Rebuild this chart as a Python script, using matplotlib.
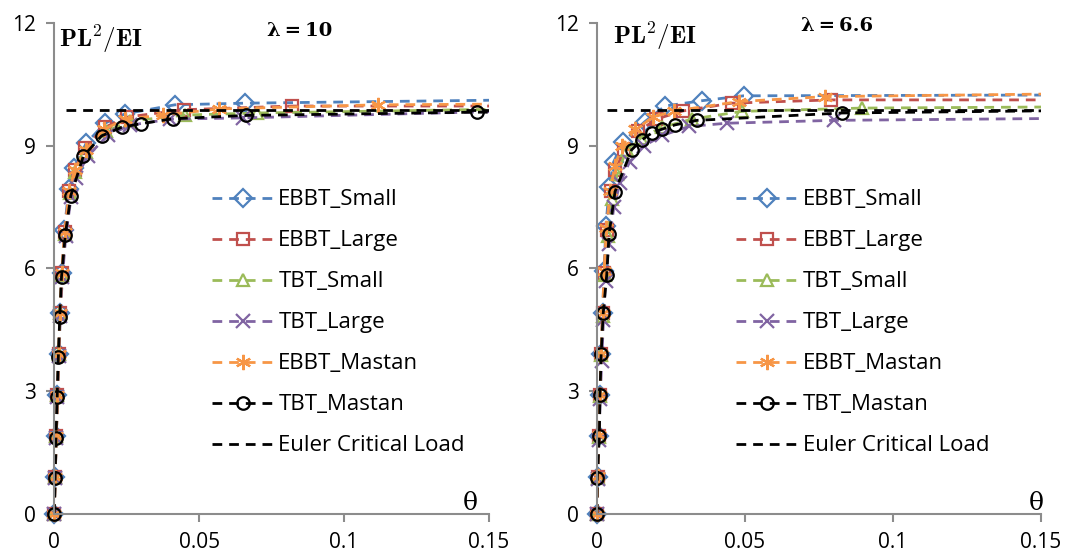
"""
Load-rotation curves (PL^2/EI vs theta) for two slenderness ratios,
compared with the Euler critical load.
"""
import numpy as np
import matplotlib.pyplot as plt

plt.rcParams['mathtext.fontset'] = 'cm'

# ---- data: lambda = 10 (left panel) ----
th10_ebbt_s = [0, 0.0003, 0.0007, 0.0011, 0.0015, 0.0020, 0.0026, 0.0035, 0.0050, 0.0068, 0.0110, 0.0175, 0.0244, 0.0416, 0.0658, 0.16]
p10_ebbt_s = [0, 0.9, 1.9, 2.9, 3.9, 4.9, 5.9, 6.95, 7.95, 8.45, 9.06, 9.55, 9.78, 10.0, 10.04, 10.12]
th10_ebbt_l = [0, 0.0003, 0.0007, 0.0011, 0.0015, 0.0020, 0.0026, 0.0036, 0.0052, 0.0070, 0.0105, 0.0175, 0.0250, 0.0448, 0.0819, 0.16]
p10_ebbt_l = [0, 0.9, 1.9, 2.9, 3.9, 4.9, 5.9, 6.9, 7.9, 8.4, 8.95, 9.45, 9.7, 9.88, 9.97, 9.97]
th10_tbt_s = [0, 0.0003, 0.0007, 0.0011, 0.0015, 0.0020, 0.0026, 0.0037, 0.0054, 0.0072, 0.0110, 0.0180, 0.0260, 0.0450, 0.0700, 0.16]
p10_tbt_s = [0, 0.9, 1.9, 2.9, 3.9, 4.9, 5.85, 6.85, 7.85, 8.35, 8.85, 9.35, 9.6, 9.75, 9.8, 9.9]
th10_tbt_l = [0, 0.0003, 0.0007, 0.0011, 0.0016, 0.0021, 0.0028, 0.0040, 0.0058, 0.0075, 0.0115, 0.0185, 0.0260, 0.0400, 0.0650, 0.16]
p10_tbt_l = [0, 0.88, 1.85, 2.85, 3.85, 4.85, 5.8, 6.8, 7.75, 8.2, 8.75, 9.25, 9.5, 9.65, 9.68, 9.85]
th10_ebbt_m = [0, 0.0003, 0.0007, 0.0011, 0.0015, 0.0020, 0.0026, 0.0036, 0.0052, 0.0070, 0.0108, 0.0172, 0.0245, 0.0376, 0.0570, 0.1117, 0.16]
p10_ebbt_m = [0, 0.9, 1.9, 2.9, 3.9, 4.9, 5.9, 6.9, 7.9, 8.4, 8.9, 9.4, 9.65, 9.75, 9.9, 10.0, 10.02]
th10_tbt_m = [0, 0.0003, 0.0006, 0.0010, 0.0014, 0.0019, 0.0025, 0.0038, 0.0057, 0.0100, 0.0163, 0.0232, 0.0300, 0.0410, 0.0660, 0.1460, 0.16]
p10_tbt_m = [0, 0.88, 1.86, 2.85, 3.84, 4.82, 5.8, 6.82, 7.78, 8.74, 9.24, 9.45, 9.54, 9.66, 9.74, 9.82, 9.82]
th10_euler = [0.004, 0.16]

# ---- data: lambda = 6.6 (right panel) ----
th66_ebbt_s = [0, 0.0002, 0.0006, 0.0010, 0.0014, 0.0019, 0.0024, 0.0030, 0.0042, 0.0056, 0.0089, 0.0162, 0.0230, 0.0354, 0.0495, 0.16]
p66_ebbt_s = [0, 0.9, 1.9, 2.9, 3.9, 4.9, 5.95, 7.05, 8.0, 8.6, 9.1, 9.59, 9.97, 10.1, 10.22, 10.24]
th66_ebbt_l = [0, 0.0002, 0.0006, 0.0010, 0.0014, 0.0019, 0.0025, 0.0033, 0.0046, 0.0062, 0.0092, 0.0140, 0.0200, 0.0290, 0.0455, 0.0790, 0.16]
p66_ebbt_l = [0, 0.9, 1.9, 2.9, 3.9, 4.9, 5.9, 6.95, 7.9, 8.4, 8.9, 9.35, 9.65, 9.85, 10.04, 10.12, 10.12]
th66_tbt_s = [0, 0.0002, 0.0006, 0.0010, 0.0014, 0.0020, 0.0026, 0.0036, 0.0050, 0.0068, 0.0100, 0.0150, 0.0220, 0.0320, 0.0490, 0.0894, 0.16]
p66_tbt_s = [0, 0.88, 1.88, 2.88, 3.88, 4.85, 5.85, 6.8, 7.7, 8.3, 8.9, 9.2, 9.45, 9.65, 9.84, 9.92, 9.95]
th66_tbt_l = [0, 0.0002, 0.0006, 0.0011, 0.0016, 0.0022, 0.0029, 0.0040, 0.0057, 0.0078, 0.0110, 0.0160, 0.0220, 0.0310, 0.0438, 0.0800, 0.16]
p66_tbt_l = [0, 0.85, 1.8, 2.8, 3.75, 4.75, 5.7, 6.6, 7.5, 8.1, 8.6, 9.0, 9.25, 9.47, 9.55, 9.62, 9.67]
th66_ebbt_m = [0, 0.0002, 0.0006, 0.0010, 0.0014, 0.0019, 0.0024, 0.0032, 0.0045, 0.0060, 0.0085, 0.0130, 0.0190, 0.0260, 0.0480, 0.0770, 0.16]
p66_ebbt_m = [0, 0.92, 1.92, 2.92, 3.92, 4.92, 5.95, 7.0, 7.9, 8.5, 9.0, 9.4, 9.7, 9.85, 10.08, 10.2, 10.27]
th66_tbt_m = [0, 0.0001, 0.0008, 0.0010, 0.0014, 0.0021, 0.0033, 0.0041, 0.0061, 0.0117, 0.0151, 0.0185, 0.0218, 0.0264, 0.0337, 0.0827, 0.16]
p66_tbt_m = [0, 0.88, 1.9, 2.9, 3.9, 4.9, 5.85, 6.85, 7.88, 8.9, 9.14, 9.31, 9.4, 9.51, 9.62, 9.8, 9.86]
th66_euler = [0.0034, 0.16]

euler_load = 9.87
labels = ['EBBT_Small', 'EBBT_Large', 'TBT_Small', 'TBT_Large', 'EBBT_Mastan', 'TBT_Mastan']
colors = ['#4F81BD', '#C0504D', '#9BBB59', '#8064A2', '#F79646', 'black']
markers = ['D', 's', '^', 'x', (6, 2, 0), 'o']
msizes = [9, 9, 9, 10, 11, 9]

# text placement per panel: legend x, lambda (x, y), PL2/EI (x, y), theta x
panels = [
    ('10', [(th10_ebbt_s, p10_ebbt_s), (th10_ebbt_l, p10_ebbt_l), (th10_tbt_s, p10_tbt_s),
            (th10_tbt_l, p10_tbt_l), (th10_ebbt_m, p10_ebbt_m), (th10_tbt_m, p10_tbt_m)], th10_euler,
     [0.0504, 0.0739, 0.4036, 0.8847], 0.362, (0.49, 1.003), (0.012, 1.0), 0.958),
    ('6.6', [(th66_ebbt_s, p66_ebbt_s), (th66_ebbt_l, p66_ebbt_l), (th66_tbt_s, p66_tbt_s),
             (th66_tbt_l, p66_tbt_l), (th66_ebbt_m, p66_ebbt_m), (th66_tbt_m, p66_tbt_m)], th66_euler,
     [0.5543, 0.0739, 0.4123, 0.8847], 0.313, (0.46, 1.013), (0.036, 1.006), 0.99),
]

fig = plt.figure(figsize=(10.77, 5.55), dpi=100, facecolor='white')
dash = (0, (3.5, 2.5))
tick_font = 'Open Sans'

for lam, series, th_eu, rect, leg_x, lam_xy, pl_xy, theta_x in panels:
    ax = fig.add_axes(rect)
    handles = []
    for (th, p), lab, c, m, ms in zip(series, labels, colors, markers, msizes):
        th = np.asarray(th)
        p = np.asarray(p)
        ax.plot(th, p, linestyle=dash, color=c, lw=2)
        keep = th <= 0.15
        # markers at theta = 0 sit on the spine, so don't clip them
        ax.plot(th[keep], p[keep], linestyle='none', marker=m, ms=ms, mfc='none',
                mec=c, mew=1.6, clip_on=False)
        handles.append(plt.Line2D([], [], linestyle=dash, color=c, lw=2, marker=m, ms=ms,
                                  mfc='none', mec=c, mew=1.6, label=lab))
    eu, = ax.plot(th_eu, [euler_load, euler_load], linestyle=dash,
                  color='black', lw=2, label='Euler Critical Load')
    handles.append(eu)

    ax.set_xlim(0, 0.15)
    ax.set_ylim(0, 12)
    ax.set_xticks([0, 0.05, 0.1, 0.15])
    ax.set_xticklabels(['0', '0.05', '0.1', '0.15'])
    ax.set_yticks([0, 3, 6, 9, 12])
    for s in ['top', 'right']:
        ax.spines[s].set_visible(False)
    for s in ['left', 'bottom']:
        ax.spines[s].set_color('#8C8C8C')
        ax.spines[s].set_linewidth(1.5)
    ax.tick_params(axis='both', colors='#8C8C8C', labelcolor='black', labelsize=15,
                   length=6, width=1.5, direction='out')
    ax.tick_params(axis='x', pad=7)
    ax.tick_params(axis='y', pad=7)
    for t in ax.get_xticklabels() + ax.get_yticklabels():
        t.set_family(tick_font)

    ax.text(pl_xy[0], pl_xy[1], r'$\mathbf{PL^2/EI}$', transform=ax.transAxes,
            fontsize=18, va='top', ha='left')
    ax.text(lam_xy[0], lam_xy[1], '\u03bb\u2009=\u2009' + lam, transform=ax.transAxes,
            fontsize=14, fontweight='bold', family='DejaVu Serif', va='top', ha='left')
    ax.text(theta_x, 0.022, '\u03b8', transform=ax.transAxes, fontsize=18,
            family='DejaVu Serif', va='center', ha='center')

    ax.legend(handles=handles, loc='upper left', bbox_to_anchor=(leg_x, 0.661),
              frameon=False, handlelength=2.8, handletextpad=0.2,
              labelspacing=0.9, borderpad=0, borderaxespad=0, numpoints=1,
              prop={'family': tick_font, 'size': 16})

fig.savefig('out.png', dpi=100, facecolor='white')
